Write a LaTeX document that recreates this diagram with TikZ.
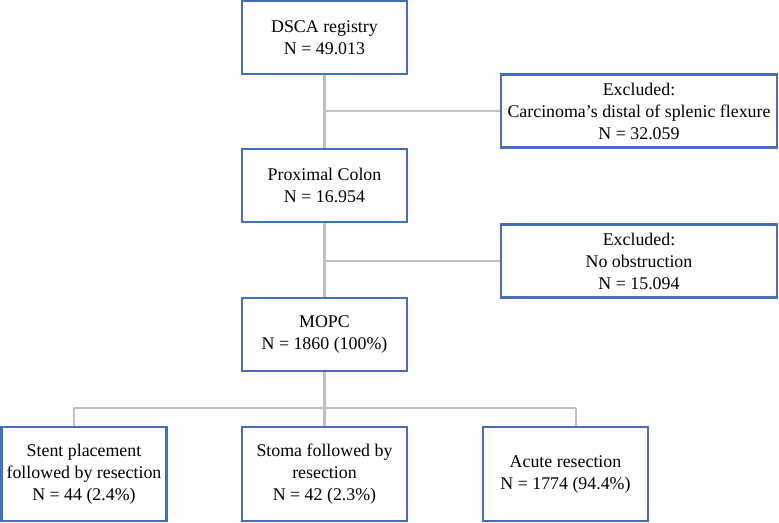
\documentclass[tikz,border=0pt]{standalone}
\usepackage{fontspec}
\setmainfont{Liberation Serif}

\definecolor{boxblue}{RGB}{72,110,185}
\definecolor{linkgray}{RGB}{191,191,191}

\tikzset{every picture/.style={line width=0.75pt}}
\tikzset{
  box/.style={draw=boxblue, line width=1.6pt, fill=white, align=center, inner sep=0pt,
    font=\fontsize{13.4}{16.5}\selectfont},
  mainbox/.style={box, minimum width=123.75pt, minimum height=54.75pt},
  exclbox/.style={box, minimum width=207pt, minimum height=54.75pt},
  armbox/.style={box, minimum width=123.75pt, minimum height=70.5pt},
  link/.style={draw=linkgray, line width=1.6pt}
}

\begin{document}
\begin{tikzpicture}[x=0.75pt,y=0.75pt,yscale=-1,xscale=1]
	\useasboundingbox (0,0) rectangle (779,522);

	%Shape: Rectangle
	\node[mainbox] (dsca) at (324.5,37.5) {DSCA registry\\N = 49.013};
	%Shape: Rectangle
	\node[exclbox] (excla) at (639,111) {Excluded:\\Carcinoma’s distal of splenic flexure\\N = 32.059};
	%Shape: Rectangle
	\node[mainbox] (prox) at (324.5,185.5) {Proximal Colon\\N = 16.954};
	%Shape: Rectangle
	\node[exclbox] (exclb) at (639,261) {Excluded:\\No obstruction\\N = 15.094};
	%Shape: Rectangle
	\node[mainbox] (mopc) at (324.5,334.5) {MOPC\\N = 1860 (100\%)};
	%Shape: Rectangle
	\node[armbox] (stent) at (84,474) {Stent placement\\followed by resection\\N = 44 (2.4\%)};
	%Shape: Rectangle
	\node[armbox] (stoma) at (324.5,474) {Stoma followed by\\resection\\N = 42 (2.3\%)};
	%Shape: Rectangle
	\node[armbox] (acute) at (565.5,474) {Acute resection\\N = 1774 (94.4\%)};

	%Straight Lines
	\draw[link] (dsca.south) -- (prox.north);
	\draw[link] (excla.west) -- (excla.west -| dsca.south);
	%Straight Lines
	\draw[link] (prox.south) -- (mopc.north);
	\draw[link] (exclb.west) -- (exclb.west -| prox.south);
	%Straight Lines
	\coordinate (split) at (324.5,408);
	\coordinate (splitl) at (74,408);
	\coordinate (splitr) at (576,408);
	\draw[link] (mopc.south) -- (split);
	\draw[link] (splitl) -- (splitr);
	\draw[link] (splitl) -- (splitl |- stent.north);
	\draw[link] (split) -- (stoma.north);
	\draw[link] (splitr) -- (splitr |- acute.north);

\end{tikzpicture}
\end{document}
